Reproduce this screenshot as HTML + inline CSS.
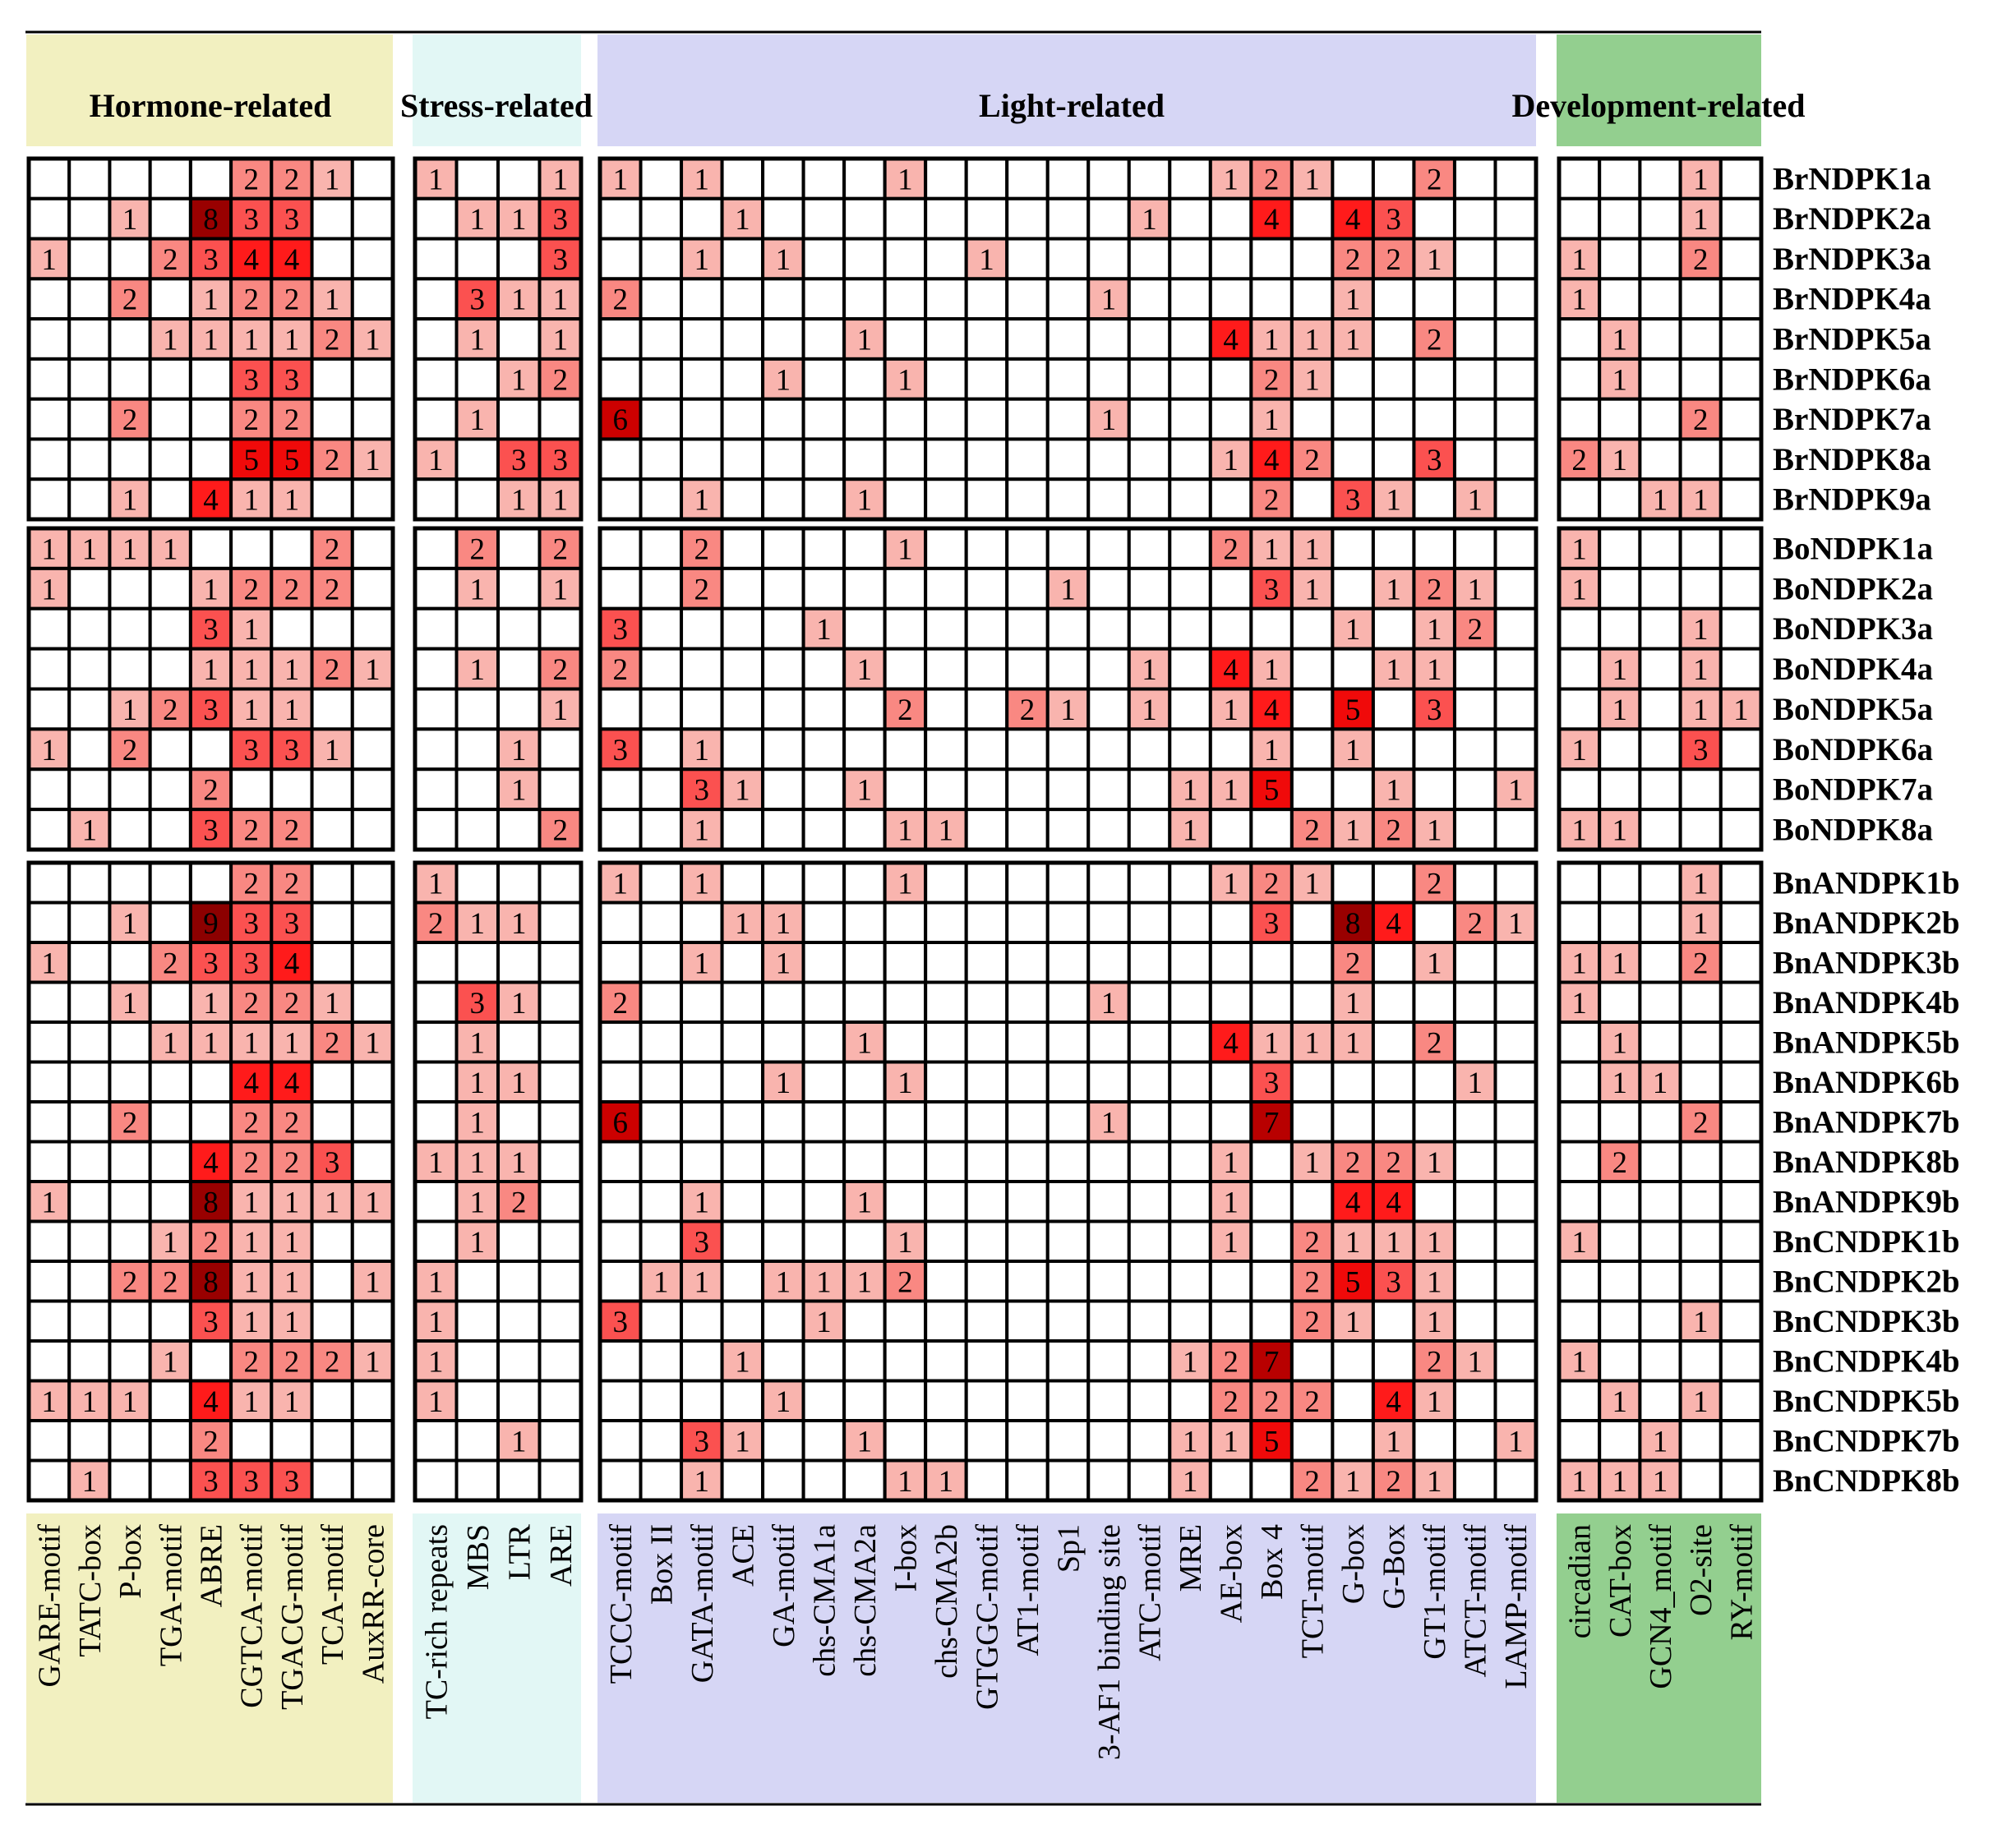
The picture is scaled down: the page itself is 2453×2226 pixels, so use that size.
<!DOCTYPE html>
<html><head><meta charset="utf-8"><style>
html,body{margin:0;padding:0;background:#fff;}
svg{display:block;font-family:"Liberation Serif",serif;}
</style></head><body>
<svg id="chart" width="2453" height="2226" viewBox="0 0 2453 2226" xmlns="http://www.w3.org/2000/svg"></svg>
<script>
const groupNames = ["Hormone-related","Stress-related","Light-related","Development-related"];
const hormoneCols = ["GARE-motif","TATC-box","P-box","TGA-motif","ABRE","CGTCA-motif","TGACG-motif","TCA-motif","AuxRR-core"];
const stressCols = ["TC-rich repeats","MBS","LTR","ARE"];
const lightCols = ["TCCC-motif","Box II","GATA-motif","ACE","GA-motif","chs-CMA1a","chs-CMA2a","I-box","chs-CMA2b","GTGGC-motif","AT1-motif","Sp1","3-AF1 binding site","ATC-motif","MRE","AE-box","Box 4","TCT-motif","G-box","G-Box","GT1-motif","ATCT-motif","LAMP-motif"];
const devCols = ["circadian","CAT-box","GCN4_motif","O2-site","RY-motif"];
const genes1 = ["BrNDPK1a","BrNDPK2a","BrNDPK3a","BrNDPK4a","BrNDPK5a","BrNDPK6a","BrNDPK7a","BrNDPK8a","BrNDPK9a"];
const genes2 = ["BoNDPK1a","BoNDPK2a","BoNDPK3a","BoNDPK4a","BoNDPK5a","BoNDPK6a","BoNDPK7a","BoNDPK8a"];
const genes3 = ["BnANDPK1b","BnANDPK2b","BnANDPK3b","BnANDPK4b","BnANDPK5b","BnANDPK6b","BnANDPK7b","BnANDPK8b","BnANDPK9b","BnCNDPK1b","BnCNDPK2b","BnCNDPK3b","BnCNDPK4b","BnCNDPK5b","BnCNDPK7b","BnCNDPK8b"];
// values per gene: hormone(9) | stress(4) | light(23) | development(5)
const values = [
[0,0,0,0,0,2,2,1,0, 1,0,0,1, 1,0,1,0,0,0,0,1,0,0,0,0,0,0,0,1,2,1,0,0,2,0,0, 0,0,0,1,0],
[0,0,1,0,8,3,3,0,0, 0,1,1,3, 0,0,0,1,0,0,0,0,0,0,0,0,0,1,0,0,4,0,4,3,0,0,0, 0,0,0,1,0],
[1,0,0,2,3,4,4,0,0, 0,0,0,3, 0,0,1,0,1,0,0,0,0,1,0,0,0,0,0,0,0,0,2,2,1,0,0, 1,0,0,2,0],
[0,0,2,0,1,2,2,1,0, 0,3,1,1, 2,0,0,0,0,0,0,0,0,0,0,0,1,0,0,0,0,0,1,0,0,0,0, 1,0,0,0,0],
[0,0,0,1,1,1,1,2,1, 0,1,0,1, 0,0,0,0,0,0,1,0,0,0,0,0,0,0,0,4,1,1,1,0,2,0,0, 0,1,0,0,0],
[0,0,0,0,0,3,3,0,0, 0,0,1,2, 0,0,0,0,1,0,0,1,0,0,0,0,0,0,0,0,2,1,0,0,0,0,0, 0,1,0,0,0],
[0,0,2,0,0,2,2,0,0, 0,1,0,0, 6,0,0,0,0,0,0,0,0,0,0,0,1,0,0,0,1,0,0,0,0,0,0, 0,0,0,2,0],
[0,0,0,0,0,5,5,2,1, 1,0,3,3, 0,0,0,0,0,0,0,0,0,0,0,0,0,0,0,1,4,2,0,0,3,0,0, 2,1,0,0,0],
[0,0,1,0,4,1,1,0,0, 0,0,1,1, 0,0,1,0,0,0,1,0,0,0,0,0,0,0,0,0,2,0,3,1,0,1,0, 0,0,1,1,0],
[1,1,1,1,0,0,0,2,0, 0,2,0,2, 0,0,2,0,0,0,0,1,0,0,0,0,0,0,0,2,1,1,0,0,0,0,0, 1,0,0,0,0],
[1,0,0,0,1,2,2,2,0, 0,1,0,1, 0,0,2,0,0,0,0,0,0,0,0,1,0,0,0,0,3,1,0,1,2,1,0, 1,0,0,0,0],
[0,0,0,0,3,1,0,0,0, 0,0,0,0, 3,0,0,0,0,1,0,0,0,0,0,0,0,0,0,0,0,0,1,0,1,2,0, 0,0,0,1,0],
[0,0,0,0,1,1,1,2,1, 0,1,0,2, 2,0,0,0,0,0,1,0,0,0,0,0,0,1,0,4,1,0,0,1,1,0,0, 0,1,0,1,0],
[0,0,1,2,3,1,1,0,0, 0,0,0,1, 0,0,0,0,0,0,0,2,0,0,2,1,0,1,0,1,4,0,5,0,3,0,0, 0,1,0,1,1],
[1,0,2,0,0,3,3,1,0, 0,0,1,0, 3,0,1,0,0,0,0,0,0,0,0,0,0,0,0,0,1,0,1,0,0,0,0, 1,0,0,3,0],
[0,0,0,0,2,0,0,0,0, 0,0,1,0, 0,0,3,1,0,0,1,0,0,0,0,0,0,0,1,1,5,0,0,1,0,0,1, 0,0,0,0,0],
[0,1,0,0,3,2,2,0,0, 0,0,0,2, 0,0,1,0,0,0,0,1,1,0,0,0,0,0,1,0,0,2,1,2,1,0,0, 1,1,0,0,0],
[0,0,0,0,0,2,2,0,0, 1,0,0,0, 1,0,1,0,0,0,0,1,0,0,0,0,0,0,0,1,2,1,0,0,2,0,0, 0,0,0,1,0],
[0,0,1,0,9,3,3,0,0, 2,1,1,0, 0,0,0,1,1,0,0,0,0,0,0,0,0,0,0,0,3,0,8,4,0,2,1, 0,0,0,1,0],
[1,0,0,2,3,3,4,0,0, 0,0,0,0, 0,0,1,0,1,0,0,0,0,0,0,0,0,0,0,0,0,0,2,0,1,0,0, 1,1,0,2,0],
[0,0,1,0,1,2,2,1,0, 0,3,1,0, 2,0,0,0,0,0,0,0,0,0,0,0,1,0,0,0,0,0,1,0,0,0,0, 1,0,0,0,0],
[0,0,0,1,1,1,1,2,1, 0,1,0,0, 0,0,0,0,0,0,1,0,0,0,0,0,0,0,0,4,1,1,1,0,2,0,0, 0,1,0,0,0],
[0,0,0,0,0,4,4,0,0, 0,1,1,0, 0,0,0,0,1,0,0,1,0,0,0,0,0,0,0,0,3,0,0,0,0,1,0, 0,1,1,0,0],
[0,0,2,0,0,2,2,0,0, 0,1,0,0, 6,0,0,0,0,0,0,0,0,0,0,0,1,0,0,0,7,0,0,0,0,0,0, 0,0,0,2,0],
[0,0,0,0,4,2,2,3,0, 1,1,1,0, 0,0,0,0,0,0,0,0,0,0,0,0,0,0,0,1,0,1,2,2,1,0,0, 0,2,0,0,0],
[1,0,0,0,8,1,1,1,1, 0,1,2,0, 0,0,1,0,0,0,1,0,0,0,0,0,0,0,0,1,0,0,4,4,0,0,0, 0,0,0,0,0],
[0,0,0,1,2,1,1,0,0, 0,1,0,0, 0,0,3,0,0,0,0,1,0,0,0,0,0,0,0,1,0,2,1,1,1,0,0, 1,0,0,0,0],
[0,0,2,2,8,1,1,0,1, 1,0,0,0, 0,1,1,0,1,1,1,2,0,0,0,0,0,0,0,0,0,2,5,3,1,0,0, 0,0,0,0,0],
[0,0,0,0,3,1,1,0,0, 1,0,0,0, 3,0,0,0,0,1,0,0,0,0,0,0,0,0,0,0,0,2,1,0,1,0,0, 0,0,0,1,0],
[0,0,0,1,0,2,2,2,1, 1,0,0,0, 0,0,0,1,0,0,0,0,0,0,0,0,0,0,1,2,7,0,0,0,2,1,0, 1,0,0,0,0],
[1,1,1,0,4,1,1,0,0, 1,0,0,0, 0,0,0,0,1,0,0,0,0,0,0,0,0,0,0,2,2,2,0,4,1,0,0, 0,1,0,1,0],
[0,0,0,0,2,0,0,0,0, 0,0,1,0, 0,0,3,1,0,0,1,0,0,0,0,0,0,0,1,1,5,0,0,1,0,0,1, 0,0,1,0,0],
[0,1,0,0,3,3,3,0,0, 0,0,0,0, 0,0,1,0,0,0,0,1,1,0,0,0,0,0,1,0,0,2,1,2,1,0,0, 1,1,1,0,0]
];

const NS = "http://www.w3.org/2000/svg";
const svg = document.getElementById("chart");
function mk(tag, attrs, parent){ const e=document.createElementNS(NS,tag); for(const k in attrs) e.setAttribute(k,attrs[k]); (parent||svg).appendChild(e); return e; }

const colGroups = [hormoneCols, stressCols, lightCols, devCols];
const groupX = [[35,478],[505,707],[730,1869],[1897,2143]];
const headerBg = ["#f2f0c0","#e2f7f5","#d6d6f5","#93cf8f"];
const headerTextX = [256,604,1304,2018];
const rowBlocks = [[genes1,193,632],[genes2,643,1034],[genes3,1050,1826]];
const palette = ["#ffffff","#f9b4ae","#f98882","#fb5150","#ff1b1b","#f00a0a","#cc0000","#b80000","#990000","#8c0000"];
function colorScale(v){ return palette[Math.min(v, palette.length-1)]; }
function xScale(g, i){ const [a,b]=groupX[g]; const w=(b-a)/colGroups[g].length; return a + i*w; }
function colW(g){ const [a,b]=groupX[g]; return (b-a)/colGroups[g].length; }

const topLine = mk("line",{x1:31,y1:39,x2:2143,y2:39,stroke:"#000","stroke-width":3});


const botLine = mk("line",{x1:31,y1:2196,x2:2143,y2:2196,stroke:"#000","stroke-width":3});



groupNames.forEach((name,g)=>{
  const [a,b]=groupX[g];
  const hb = mk("rect",{x:a-3,y:42,width:b-a+3,height:136,fill:headerBg[g]});
  
  
  const lb = mk("rect",{x:a-3,y:1842,width:b-a+3,height:352,fill:headerBg[g]});
  
  
});
groupNames.forEach((name,g)=>{
  const t = mk("text",{x:headerTextX[g],y:142,"text-anchor":"middle","font-size":40,"font-weight":"bold",fill:"#000"});
  t.textContent=name;
  
  
});

colGroups.forEach((cols,g)=>{
  cols.forEach((c,i)=>{
    const cx = xScale(g,i)+colW(g)/2 + 13;
    const t = mk("text",{x:0,y:0,transform:`translate(${cx},1855) rotate(-90)`,"text-anchor":"end","font-size":38,fill:"#000"});
    t.textContent=c;
    
    
  });
});

let rowIdx = 0;
rowBlocks.forEach(([genes,y0,y1],bi)=>{
  const rh = (y1-y0)/genes.length;
  genes.forEach((gene,r)=>{
    const vals = values[rowIdx];
    const y = y0 + r*rh;
    let off = 0;
    colGroups.forEach((cols,g)=>{
      cols.forEach((c,i)=>{
        const v = vals[off+i];
        const x = xScale(g,i);
        const w = colW(g);
        const cell = mk("rect",{x:x,y:y,width:w,height:rh,fill:colorScale(v),stroke:"#000","stroke-width":4});
        
        
        if(v>0){
          const t = mk("text",{x:x+w/2,y:y+rh/2+13,"text-anchor":"middle","font-size":37,fill:"#000"});
          t.textContent=v;
          
          
        }
      });
      off += cols.length;
    });
    const lab = mk("text",{x:2157,y:y+rh/2+13,"font-size":39,"font-weight":"bold",fill:"#000"});
    lab.textContent=gene;
    
    
    rowIdx++;
  });
  groupX.forEach(([a,b])=>{
    const o = mk("rect",{x:a,y:y0,width:b-a,height:y1-y0,fill:"none",stroke:"#000","stroke-width":5});
    
    
  });
});
</script>
</body></html>
